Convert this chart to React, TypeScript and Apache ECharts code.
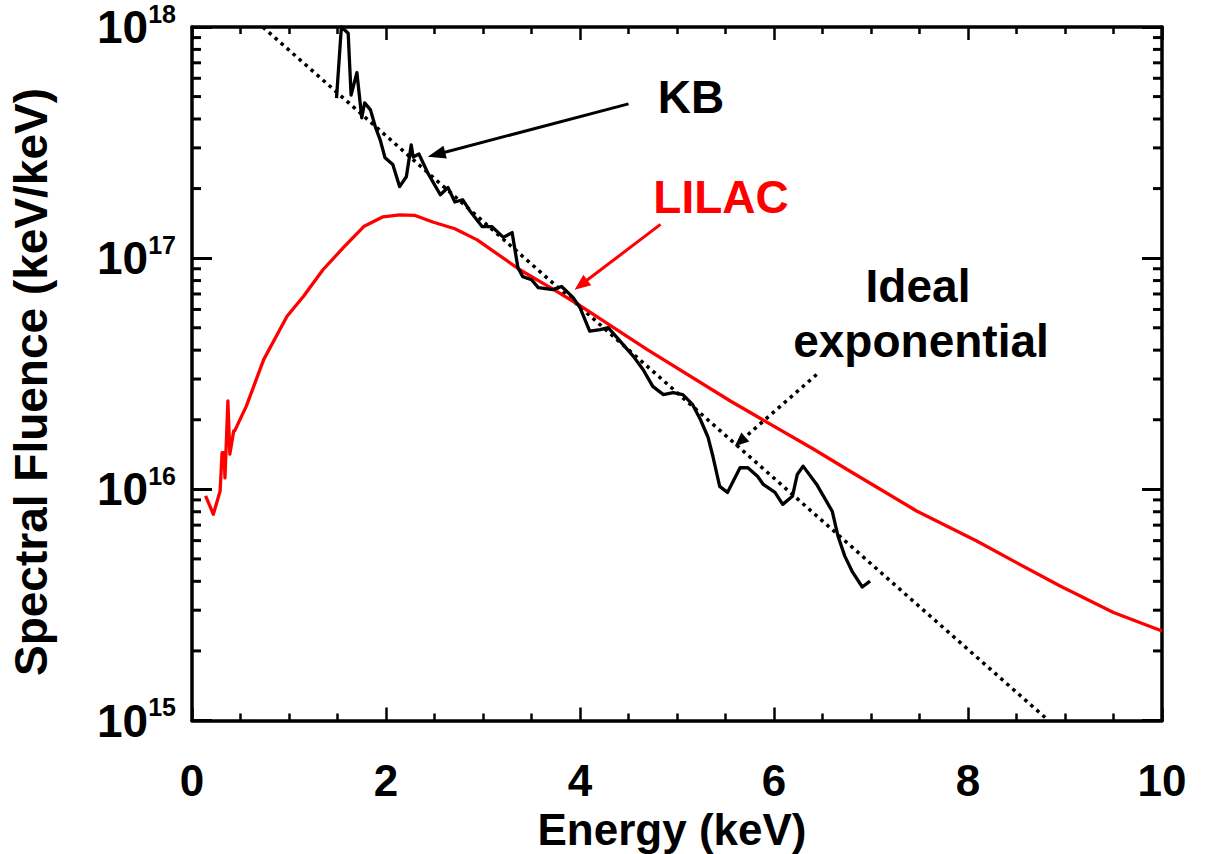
import React, { useEffect, useRef } from "react";
import * as echarts from "echarts";

// ---- Data ----
const kbEnergy = [
  1.49, 1.54, 1.61, 1.64, 1.7, 1.75, 1.78, 1.84, 1.89, 1.94, 1.99, 2.07, 2.14, 2.21, 2.26, 2.28, 2.34,
  2.43, 2.56, 2.64, 2.71, 2.79, 2.87, 2.99, 3.09, 3.21, 3.3, 3.36, 3.41, 3.5, 3.57, 3.72, 3.81, 3.93,
  4.0, 4.1, 4.21, 4.29, 4.38, 4.55, 4.65, 4.75, 4.86, 4.96, 5.06, 5.16, 5.24, 5.32, 5.37, 5.44, 5.52,
  5.65, 5.73, 5.83, 5.89, 6.01, 6.09, 6.19, 6.24, 6.3, 6.44, 6.6, 6.66, 6.73, 6.81, 6.91, 6.99,
];
const kbFluence = [
  4.92e17, 1.0e18, 9.4e17, 5.08e17, 6.35e17, 4.05e17, 4.7e17, 4.38e17, 3.7e17, 3.25e17, 2.72e17,
  2.54e17, 2.04e17, 2.25e17, 3.09e17, 2.74e17, 2.82e17, 2.34e17, 1.88e17, 2.02e17, 1.75e17, 1.79e17,
  1.59e17, 1.37e17, 1.37e17, 1.23e17, 1.29e17, 9.1e16, 8.32e16, 8.07e16, 7.46e16, 7.31e16, 7.54e16,
  6.75e16, 6.11e16, 4.83e16, 4.91e16, 5.01e16, 4.54e16, 3.76e16, 3.3e16, 2.79e16, 2.57e16, 2.62e16,
  2.57e16, 2.33e16, 2.01e16, 1.68e16, 1.39e16, 1.03e16, 9.7e15, 1.24e16, 1.24e16, 1.14e16, 1.05e16,
  9.7e15, 8.61e15, 9.33e15, 1.16e16, 1.26e16, 1.05e16, 8.04e15, 6.27e15, 5.14e15, 4.38e15, 3.78e15,
  4.01e15,
];

const lilacEnergy = [
  0.14, 0.22, 0.29, 0.31, 0.33, 0.34, 0.37, 0.39, 0.43, 0.44, 0.56, 0.74, 0.98, 1.15, 1.35, 1.56, 1.77,
  1.97, 2.14, 2.3, 2.49, 2.71, 2.94, 3.38, 3.73, 4.0, 4.69, 5.55, 6.41, 6.78, 7.47, 8.09, 8.5, 8.95,
  9.5, 10.0,
];
const lilacFluence = [
  9.36e15, 7.8e15, 9.84e15, 1.44e16, 1.44e16, 1.12e16, 2.41e16, 1.42e16, 1.79e16, 1.79e16, 2.29e16,
  3.65e16, 5.61e16, 6.84e16, 8.91e16, 1.11e17, 1.37e17, 1.51e17, 1.54e17, 1.53e17, 1.43e17, 1.34e17,
  1.2e17, 8.91e16, 7.31e16, 6.24e16, 4.03e16, 2.41e16, 1.49e16, 1.2e16, 8.06e15, 5.98e15, 4.82e15,
  3.82e15, 2.93e15, 2.44e15,
];

const idealEnergy = [0.73, 8.83];
const idealFluence = [1e18, 1e15];

// annotation arrows: [start, end] in data coordinates
const kbArrow = [[4.5, 4.65e17], [2.52, 2.81e17]];
const lilacArrow = [[4.83, 1.4e17], [4.01, 7.67e16]];
const idealArrow = [[6.44, 3.14e16], [5.65, 1.61e16]];

const xTickLabels = ["0", "2", "4", "6", "8", "10"];
const minorMultipliers = [2, 3, 4, 5, 6, 7, 8, 9];
const decades = [1e15, 1e16, 1e17];

const FONT = "'Liberation Sans', Arial, Helvetica, sans-serif";

export default function App() {
  const ref = useRef<HTMLDivElement>(null);

  useEffect(() => {
    if (!ref.current) return;
    const chart = echarts.init(ref.current, undefined, { renderer: "svg" });

    const zip = (xs: number[], ys: number[]) => xs.map((x, i) => [x, ys[i]]);
    const minorTicks: number[][] = [];
    decades.forEach((d) => minorMultipliers.forEach((m) => minorTicks.push([0, m * d])));

    const axisLine = { show: true, onZero: false, lineStyle: { color: "#000", width: 3.5 } };
    const supStyle = { fontFamily: FONT, fontWeight: "bold", fontSize: 25, lineHeight: 26, verticalAlign: "bottom", color: "#000" };
    const baseStyle = { fontFamily: FONT, fontWeight: "bold", fontSize: 46, lineHeight: 46, verticalAlign: "bottom", color: "#000" };

    const option: any = {
      animation: false,
      backgroundColor: "#fff",
      grid: { left: 192, right: 55, top: 27, bottom: 133.5, containLabel: false, outerBoundsMode: "none" },
      xAxis: [
        {
          type: "value",
          min: 0,
          max: 10,
          interval: 2,
          position: "bottom",
          axisLine,
          axisTick: { show: true, inside: true, length: 13, lineStyle: { color: "#000", width: 2.5 } },
          minorTick: { show: true, splitNumber: 4, length: 7, lineStyle: { color: "#000", width: 2.5 } },
          splitLine: { show: false },
          axisLabel: {
            show: true,
            margin: 44.5,
            color: "#000",
            fontFamily: FONT,
            fontWeight: "bold",
            fontSize: 44,
            lineHeight: 30,
            formatter: (v: number) => xTickLabels[Math.round(v / 2)] ?? String(v),
          },
        },
        {
          type: "value",
          min: 0,
          max: 10,
          interval: 2,
          position: "top",
          axisLine,
          axisTick: { show: true, inside: true, length: 13, lineStyle: { color: "#000", width: 2.5 } },
          minorTick: { show: true, splitNumber: 4, length: 7, lineStyle: { color: "#000", width: 2.5 } },
          splitLine: { show: false },
          axisLabel: { show: false },
        },
      ],
      yAxis: [
        {
          type: "log",
          logBase: 10,
          min: 1e15,
          max: 1e18,
          position: "left",
          axisLine,
          axisTick: { show: true, inside: true, length: 20, lineStyle: { color: "#000", width: 3 } },
          splitLine: { show: false },
          minorTick: { show: false },
          axisLabel: {
            show: true,
            margin: 16,
            color: "#000",
            formatter: (v: number) => {
              const e = Math.round(Math.log10(v));
              return e === 18 ? `{bt|10}{st|${e}}` : `{b|10}{s|${e}}`;
            },
            rich: {
              b: { ...baseStyle },
              s: { ...supStyle, padding: [0, 0, 24, 0] },
              bt: { ...baseStyle, padding: [20, 0, 0, 0] },
              st: { ...supStyle, padding: [0, 0, 24, 0] },
            },
          },
        },
        {
          type: "log",
          logBase: 10,
          min: 1e15,
          max: 1e18,
          position: "right",
          axisLine,
          axisTick: { show: true, inside: true, length: 20, lineStyle: { color: "#000", width: 3 } },
          splitLine: { show: false },
          axisLabel: { show: false },
        },
      ],
      series: [
        {
          name: "Ideal exponential",
          type: "line",
          data: zip(idealEnergy, idealFluence),
          showSymbol: false,
          symbol: "none",
          lineStyle: { color: "#000", width: 3.5, type: [3.5, 4.5] },
          z: 2,
          markLine: {
            silent: true,
            symbol: ["none", "triangle"],
            symbolSize: [12, 14],
            label: { show: false },
            lineStyle: { color: "#000", width: 3.5, type: [3.5, 4.5] },
            data: [[{ coord: idealArrow[0] }, { coord: idealArrow[1] }]],
          },
        },
        {
          name: "LILAC",
          type: "line",
          data: zip(lilacEnergy, lilacFluence),
          showSymbol: false,
          symbol: "none",
          lineStyle: { color: "#ff0000", width: 3.3, join: "round" },
          z: 3,
          markLine: {
            silent: true,
            symbol: ["none", "triangle"],
            symbolSize: [13, 16],
            label: { show: false },
            lineStyle: { color: "#ff0000", width: 3, type: "solid" },
            data: [[{ coord: lilacArrow[0] }, { coord: lilacArrow[1] }]],
          },
        },
        {
          name: "KB",
          type: "line",
          data: zip(kbEnergy, kbFluence),
          showSymbol: false,
          symbol: "none",
          lineStyle: { color: "#000", width: 3.3, join: "round" },
          z: 4,
          markLine: {
            silent: true,
            symbol: ["none", "triangle"],
            symbolSize: [13, 18],
            label: { show: false },
            lineStyle: { color: "#000", width: 3, type: "solid" },
            data: [[{ coord: kbArrow[0] }, { coord: kbArrow[1] }]],
          },
        },
        {
          name: "minor ticks",
          type: "custom",
          data: minorTicks,
          encode: { x: 0, y: 1 },
          silent: true,
          clip: false,
          z: 5,
          renderItem: (_params: any, api: any) => {
            const v = api.value(1);
            const p1 = api.coord([0, v]);
            const p2 = api.coord([10, v]);
            const st = { stroke: "#000", lineWidth: 3 };
            return {
              type: "group",
              children: [
                { type: "line", shape: { x1: p1[0], y1: p1[1], x2: p1[0] + 9, y2: p1[1] }, style: st },
                { type: "line", shape: { x1: p2[0] - 9, y1: p2[1], x2: p2[0], y2: p2[1] }, style: st },
              ],
            };
          },
        },
      ],
      graphic: [
        {
          type: "text",
          x: 672,
          y: 829.5,
          style: { text: "Energy (keV)", font: `bold 44px ${FONT}`, lineHeight: 40, fill: "#000", align: "center", verticalAlign: "middle" },
        },
        {
          type: "text",
          x: 31,
          y: 382,
          rotation: Math.PI / 2,
          style: { text: "Spectral Fluence (keV/keV)", font: `bold 46px ${FONT}`, fill: "#000", align: "center", verticalAlign: "middle" },
        },
        {
          type: "text",
          x: 691,
          y: 97,
          style: { text: "KB", font: `bold 46px ${FONT}`, fill: "#000", align: "center", verticalAlign: "middle" },
        },
        {
          type: "text",
          x: 721,
          y: 197,
          style: { text: "LILAC", font: `bold 46px ${FONT}`, fill: "#ff0000", align: "center", verticalAlign: "middle" },
        },
        {
          type: "text",
          x: 918,
          y: 286,
          style: { text: "Ideal", font: `bold 46px ${FONT}`, fill: "#000", align: "center", verticalAlign: "middle" },
        },
        {
          type: "text",
          x: 921,
          y: 341,
          style: { text: "exponential", font: `bold 46px ${FONT}`, fill: "#000", align: "center", verticalAlign: "middle" },
        },
      ],
    };

    chart.setOption(option);
    return () => chart.dispose();
  }, []);

  return (
    <div
      ref={ref}
      style={{ position: "fixed", left: 0, top: 0, width: 1217, height: 854, background: "#fff" }}
    />
  );
}
